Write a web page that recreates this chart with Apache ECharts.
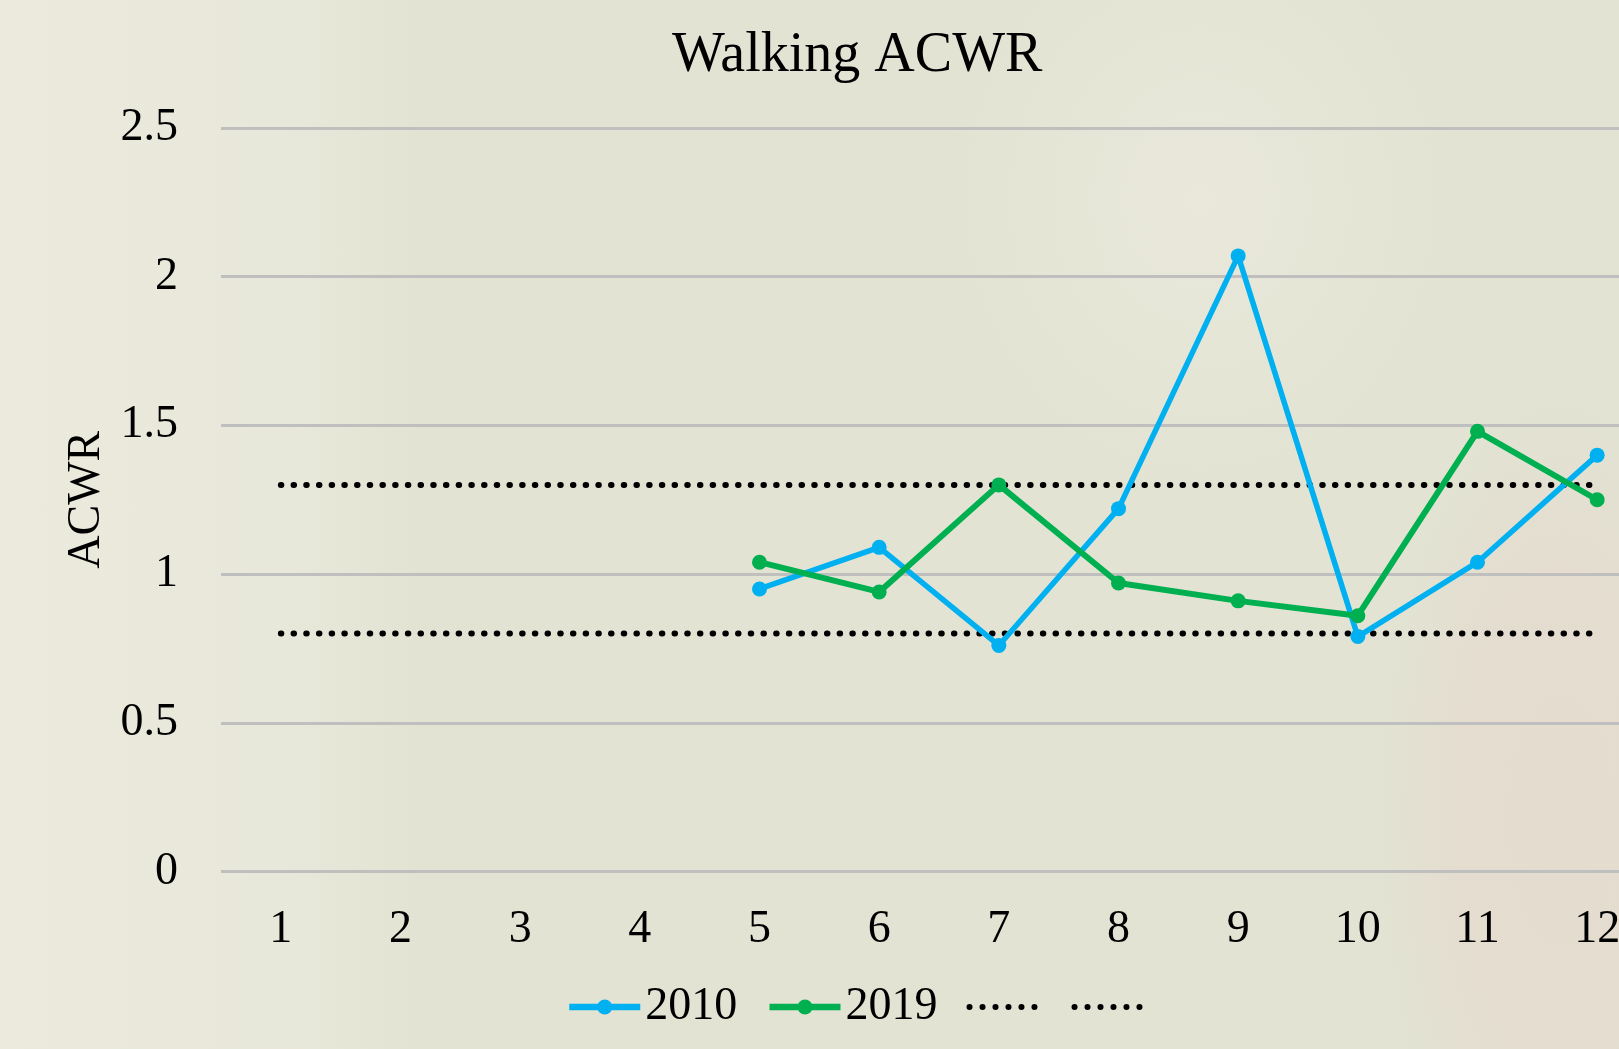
<!DOCTYPE html>
<html>
<head>
<meta charset="utf-8">
<script src="https://cdn.jsdelivr.net/npm/echarts@6/dist/echarts.min.js"></script>
<style>
html,body{margin:0;padding:0;width:1619px;height:1049px;overflow:hidden;}
body{
  background:
    linear-gradient(to right, rgba(236,235,222,0.9) 0px, rgba(236,235,222,0.6) 300px, rgba(236,235,222,0) 420px),
    radial-gradient(ellipse 180px 420px at 1560px 820px, rgba(228,220,207,1) 0%, rgba(228,220,207,0.9) 60%, rgba(228,220,207,0) 100%),
    radial-gradient(ellipse 260px 300px at 1200px 200px, rgba(234,233,220,0.9) 0%, rgba(234,233,220,0) 100%),
    #e2e3d3;
}
#chart{width:1619px;height:1049px;}
</style>
</head>
<body>
<div id="chart"></div>
<script>
var categories = ['1','2','3','4','5','6','7','8','9','10','11','12'];
var series2010 = [null,null,null,null,0.95,1.09,0.76,1.22,2.07,0.79,1.04,1.40];
var series2019 = [null,null,null,null,1.04,0.94,1.30,0.97,0.91,0.86,1.48,1.25];
var upperLimit = [1.3,1.3,1.3,1.3,1.3,1.3,1.3,1.3,1.3,1.3,1.3,1.3];
var lowerLimit = [0.8,0.8,0.8,0.8,0.8,0.8,0.8,0.8,0.8,0.8,0.8,0.8];
var yTicks = {min:0, max:2.5, interval:0.5};

var FONT = '"Liberation Serif", "Times New Roman", serif';

// legend icon made of six round dots
var dotPath = 'path://';
for (var i = 0; i < 6; i++) {
  var cx = 3 + i * 12.8;
  dotPath += 'M' + (cx - 3) + ' 3A3 3 0 1 0 ' + (cx + 3) + ' 3A3 3 0 1 0 ' + (cx - 3) + ' 3Z';
}

var chart = echarts.init(document.getElementById('chart'), null, {renderer:'canvas'});
var dotStyle = {color:'#000', width:6, type:[0.5,12.2], cap:'round'};
chart.setOption({
  backgroundColor:'transparent',
  animation:false,
  title:{
    text:'Walking ACWR', left:672, top:28, padding:0,
    textStyle:{fontFamily:FONT, fontSize:56, fontWeight:'normal', color:'#000', lineHeight:56}
  },
  grid:{left:221, top:128, width:1436, height:743.5, containLabel:false, outerBoundsMode:'none'},
  legend:{
    left:566, top:984, padding:0, itemWidth:71, itemHeight:19, itemGap:29,
    data:[
      {name:'2010', lineStyle:{width:6.5, color:'#00B0F0'}, itemStyle:{color:'#00B0F0'}},
      {name:'2019', lineStyle:{width:6.5, color:'#00B050'}, itemStyle:{color:'#00B050'}},
      {name:'\u200b', icon:dotPath, itemStyle:{color:'#000'}},
      {name:'\u200b\u200b', icon:dotPath, itemStyle:{color:'#000'}}
    ],
    textStyle:{fontFamily:FONT, fontSize:46, color:'#000', lineHeight:46}
  },
  xAxis:{
    type:'category', data:categories, boundaryGap:true,
    axisLine:{show:false}, axisTick:{show:false},
    axisLabel:{fontFamily:FONT, fontSize:46, color:'#000', margin:35}
  },
  yAxis:{
    type:'value', min:yTicks.min, max:yTicks.max, interval:yTicks.interval,
    name:'ACWR', nameLocation:'middle', nameGap:108, nameRotate:90,
    nameTextStyle:{fontFamily:FONT, fontSize:46, color:'#000'},
    axisLine:{show:false}, axisTick:{show:false},
    axisLabel:{fontFamily:FONT, fontSize:46, color:'#000', margin:43},
    splitLine:{lineStyle:{color:'#bfbfbf', width:3}}
  },
  series:[
    {name:'2010', type:'line', data:series2010, symbol:'circle', symbolSize:15,
     lineStyle:{color:'#00B0F0', width:5.5}, itemStyle:{color:'#00B0F0'}, z:3},
    {name:'2019', type:'line', data:series2019, symbol:'circle', symbolSize:15,
     lineStyle:{color:'#00B050', width:6}, itemStyle:{color:'#00B050'}, z:3},
    {name:'\u200b', type:'line', data:upperLimit, symbol:'none', showSymbol:false,
     lineStyle:dotStyle, itemStyle:{color:'#000'}, z:2},
    {name:'\u200b\u200b', type:'line', data:lowerLimit, symbol:'none', showSymbol:false,
     lineStyle:dotStyle, itemStyle:{color:'#000'}, z:2}
  ]
});
</script>
</body>
</html>
